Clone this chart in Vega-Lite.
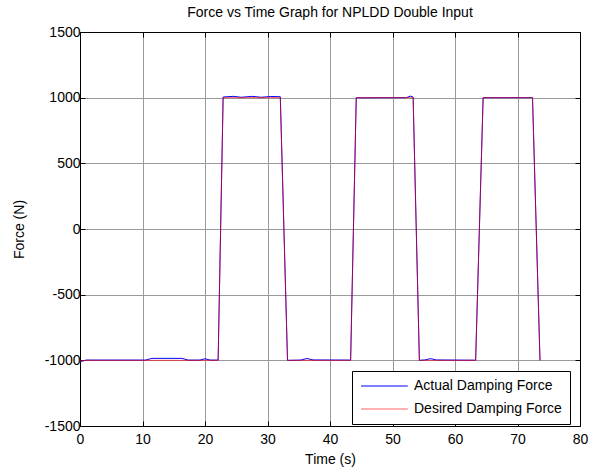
{
  "$schema": "https://vega.github.io/schema/vega-lite/v6.json",
  "autosize": {"type": "none"},
  "padding": {"left": 80, "top": 32, "right": 20, "bottom": 46},
  "width": 500,
  "height": 394,
  "background": "white",
  "config": {
    "font": "Liberation Sans",
    "view": {"stroke": "black", "strokeWidth": 1},
    "axis": {"labelFont": "Liberation Sans", "titleFont": "Liberation Sans", "labelFontSize": 14, "titleFontSize": 14, "titleFontWeight": "normal", "labelColor": "black", "titleColor": "black", "domainColor": "black", "tickColor": "black", "gridColor": "#9a9a9a", "gridOpacity": 1}
  },
  "title": {"text": "Force vs Time Graph for NPLDD Double Input", "fontSize": 14, "fontWeight": "normal", "font": "Liberation Sans", "color": "black", "offset": 5},
  "data": {"values": [
    {"t": 0, "f": -1010, "s": "Actual Damping Force"},
    {"t": 1, "f": -998, "s": "Actual Damping Force"},
    {"t": 10.5, "f": -998, "s": "Actual Damping Force"},
    {"t": 11.5, "f": -985, "s": "Actual Damping Force"},
    {"t": 16.3, "f": -985, "s": "Actual Damping Force"},
    {"t": 17.3, "f": -998, "s": "Actual Damping Force"},
    {"t": 19.2, "f": -998, "s": "Actual Damping Force"},
    {"t": 20, "f": -988, "s": "Actual Damping Force"},
    {"t": 20.8, "f": -998, "s": "Actual Damping Force"},
    {"t": 22.1, "f": -998, "s": "Actual Damping Force"},
    {"t": 22.9, "f": 1005, "s": "Actual Damping Force"},
    {"t": 24.5, "f": 1010, "s": "Actual Damping Force"},
    {"t": 25.8, "f": 1003, "s": "Actual Damping Force"},
    {"t": 27.5, "f": 1010, "s": "Actual Damping Force"},
    {"t": 29, "f": 1003, "s": "Actual Damping Force"},
    {"t": 30.5, "f": 1009, "s": "Actual Damping Force"},
    {"t": 32.05, "f": 1007, "s": "Actual Damping Force"},
    {"t": 33.2, "f": -1000, "s": "Actual Damping Force"},
    {"t": 35.3, "f": -998, "s": "Actual Damping Force"},
    {"t": 36.3, "f": -986, "s": "Actual Damping Force"},
    {"t": 37.3, "f": -997, "s": "Actual Damping Force"},
    {"t": 43.3, "f": -998, "s": "Actual Damping Force"},
    {"t": 44.2, "f": 999, "s": "Actual Damping Force"},
    {"t": 52.2, "f": 1000, "s": "Actual Damping Force"},
    {"t": 52.9, "f": 1012, "s": "Actual Damping Force"},
    {"t": 53.3, "f": 1004, "s": "Actual Damping Force"},
    {"t": 54.3, "f": -1000, "s": "Actual Damping Force"},
    {"t": 55.2, "f": -997, "s": "Actual Damping Force"},
    {"t": 56.1, "f": -987, "s": "Actual Damping Force"},
    {"t": 57, "f": -997, "s": "Actual Damping Force"},
    {"t": 63.3, "f": -999, "s": "Actual Damping Force"},
    {"t": 64.5, "f": 1000, "s": "Actual Damping Force"},
    {"t": 72.4, "f": 1000, "s": "Actual Damping Force"},
    {"t": 73.6, "f": -1000, "s": "Actual Damping Force"},
    {"t": 0, "f": -1005, "s": "Desired Damping Force"},
    {"t": 1, "f": -1000, "s": "Desired Damping Force"},
    {"t": 22.1, "f": -1000, "s": "Desired Damping Force"},
    {"t": 22.9, "f": 1000, "s": "Desired Damping Force"},
    {"t": 32.05, "f": 1000, "s": "Desired Damping Force"},
    {"t": 33.2, "f": -1000, "s": "Desired Damping Force"},
    {"t": 43.3, "f": -1000, "s": "Desired Damping Force"},
    {"t": 44.2, "f": 1000, "s": "Desired Damping Force"},
    {"t": 53.3, "f": 1000, "s": "Desired Damping Force"},
    {"t": 54.3, "f": -1000, "s": "Desired Damping Force"},
    {"t": 63.3, "f": -1000, "s": "Desired Damping Force"},
    {"t": 64.5, "f": 1000, "s": "Desired Damping Force"},
    {"t": 72.4, "f": 1000, "s": "Desired Damping Force"},
    {"t": 73.6, "f": -1000, "s": "Desired Damping Force"}
  ]},
  "layer": [
    {
      "mark": {"type": "line", "strokeWidth": 1, "clip": true},
      "encoding": {
        "x": {"field": "t", "type": "quantitative", "scale": {"domain": [0, 80], "nice": false}, "axis": {"title": "Time (s)", "values": [0,10,20,30,40,50,60,70,80], "labelExpr": "'' + datum.value", "tickSize": -5, "labelPadding": 11, "titlePadding": 6, "grid": true, "labelFlush": false}},
        "y": {"field": "f", "type": "quantitative", "scale": {"domain": [-1500, 1500], "nice": false}, "axis": {"title": "Force (N)", "values": [-1500,-1000,-500,0,500,1000,1500], "labelExpr": "'' + datum.value", "tickSize": -5, "labelPadding": 5, "titlePadding": 18, "grid": true, "labelFlush": false}},
        "order": {"field": "t", "type": "quantitative"},
        "color": {"field": "s", "type": "nominal", "scale": {"domain": ["Actual Damping Force", "Desired Damping Force"], "range": ["#0000ff", "#ff0000"]}, "legend": {"title": null, "orient": "none", "legendX": 272, "legendY": 339, "symbolType": "M-1,0L6.8,0", "symbolSize": 144, "symbolStrokeWidth": 1, "labelFontSize": 14, "labelFont": "Liberation Sans", "labelColor": "black", "strokeColor": "black", "fillColor": "white", "padding": 8, "rowPadding": 9, "labelOffset": 40}},
        "opacity": {"field": "s", "type": "nominal", "scale": {"domain": ["Actual Damping Force", "Desired Damping Force"], "range": [1, 0.62]}, "legend": {"title": null, "orient": "none", "legendX": 272, "legendY": 339, "symbolType": "M-1,0L6.8,0", "symbolSize": 144, "symbolStrokeWidth": 1, "labelFontSize": 14, "labelFont": "Liberation Sans", "labelColor": "black", "strokeColor": "black", "fillColor": "white", "padding": 8, "rowPadding": 9, "labelOffset": 40}}
      }
    },
    {
      "mark": {"type": "rule", "opacity": 0},
      "encoding": {
        "x": {"field": "t", "type": "quantitative", "axis": {"orient": "top", "title": null, "labels": false, "values": [0,10,20,30,40,50,60,70,80], "tickSize": -5, "grid": false, "domain": true}},
        "y": {"field": "f", "type": "quantitative", "axis": {"orient": "right", "title": null, "labels": false, "values": [-1500,-1000,-500,0,500,1000,1500], "tickSize": -5, "grid": false, "domain": true}}
      }
    }
  ],
  "resolve": {"axis": {"x": "independent", "y": "independent"}}
}
